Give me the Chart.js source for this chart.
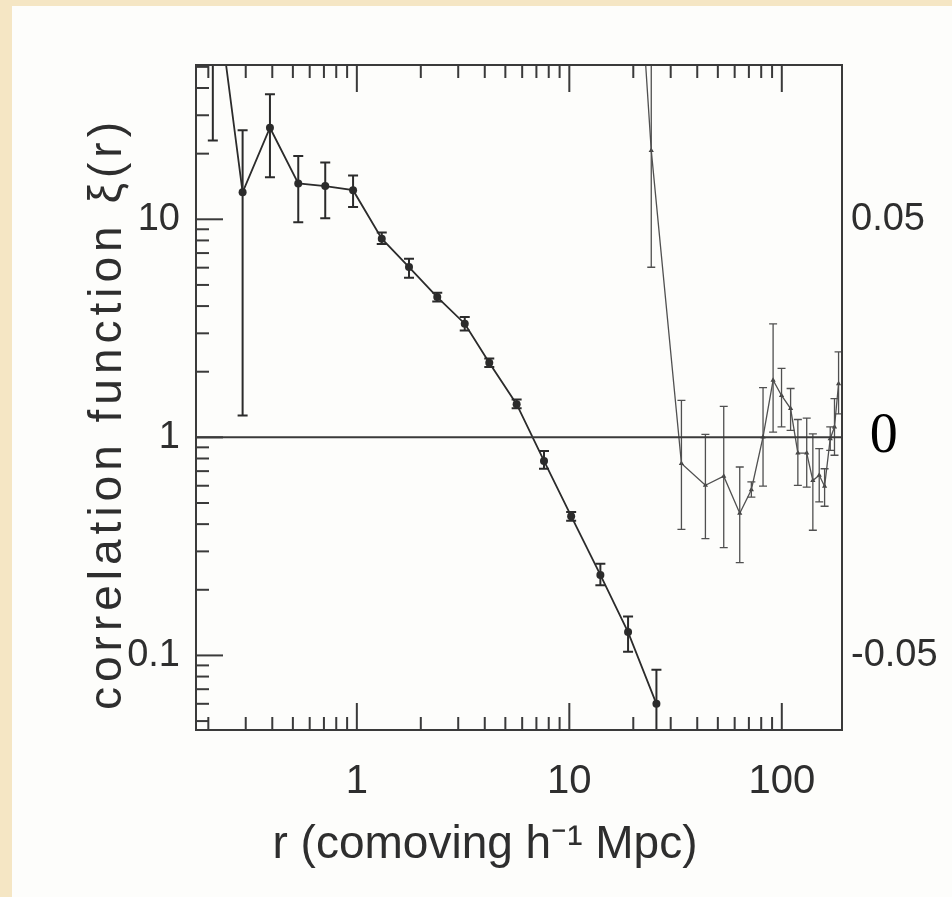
<!DOCTYPE html>
<html>
<head>
<meta charset="utf-8">
<script src="https://cdn.jsdelivr.net/npm/chart.js@4.4.1/dist/chart.umd.min.js"></script>
<style>
  html, body { margin: 0; padding: 0; }
  body { width: 952px; height: 897px; background: #f5e6c4; position: relative; overflow: hidden; }
  #paper { position: absolute; left: 12px; top: 6px; right: 0; bottom: 0; background: #fdfdfb; }
  #chart { position: absolute; left: 0; top: 0; }
</style>
</head>
<body>
<div id="paper"></div>
<canvas id="chart" width="952" height="897"></canvas>
<script>
// small-scale xi(r), log axis (left)
const rSmall = [0.21, 0.29, 0.39, 0.53, 0.71, 0.96, 1.31, 1.76, 2.39, 3.22, 4.2, 5.65, 7.6, 10.2, 14.0, 18.9, 25.7];
const xiSmall = [150, 13.3, 26.3, 14.6, 14.2, 13.6, 8.15, 6.04, 4.4, 3.32, 2.2, 1.42, 0.78, 0.435, 0.234, 0.128, 0.060];
const xiSmallLo = [23, 1.26, 15.6, 9.7, 10.1, 11.4, 7.7, 5.4, 4.2, 3.09, 2.1, 1.36, 0.718, 0.415, 0.21, 0.104, 0.03];
const xiSmallHi = [280, 25.6, 37.4, 19.5, 18.2, 15.9, 8.7, 6.6, 4.6, 3.56, 2.3, 1.49, 0.866, 0.455, 0.263, 0.151, 0.086];

// large-scale xi(r), linear axis (right)
const rLarge = [14.2, 24.3, 33.7, 43.7, 53.3, 63.4, 71.9, 81.6, 91, 99.7, 110, 119, 131, 140, 150, 159, 169, 177, 185];
const xiLarge = [0.24, 0.0658, -0.0060, -0.0110, -0.0089, -0.0174, -0.0120, 0.0001, 0.0131, 0.0096, 0.0066, -0.0036, -0.0036, -0.0099, -0.0087, -0.0112, -0.0003, 0.0024, 0.0123];
const xiLargeLo = [0.21, 0.039, -0.0211, -0.0232, -0.0253, -0.0287, -0.0137, -0.0112, 0.0012, 0.0024, 0.0016, -0.0110, -0.0114, -0.0213, -0.0148, -0.0158, -0.0030, -0.0041, 0.0054];
const xiLargeHi = [0.27, 0.093, 0.0085, 0.0007, 0.0071, -0.0068, -0.0102, 0.0114, 0.026, 0.0158, 0.0112, 0.0041, 0.0044, 0.0008, -0.0026, -0.0072, 0.0024, 0.0089, 0.0196];

// axes
const xTicks = [1, 10, 100];
const yTicks = [0.1, 1, 10];
const y2Ticks = [-0.05, 0, 0.05];
const xRange = [0.175, 192];
const yRange = [0.0455, 51];
const xTitle = 'r (comoving h\u207B\u00B9 Mpc)';
const yTitle = 'correlation function \u03BE(r)';

const ink = '#2e2e2e';
const sans = 'Liberation Sans';

// right axis is 0.05 per decade of the left one
const y2Range = yRange.map(v => 0.05 * Math.log10(v));

function decadeTicks(min, max) {
  let out = [];
  for (let d = Math.pow(10, Math.floor(Math.log10(min))); d <= max; d *= 10) {
    for (let m = 1; m <= 9; m++) {
      let v = m * d;
      if (v > min && v < max) out.push({ v: v, major: m === 1 });
    }
  }
  return out;
}

const errorBars = {
  id: 'errorBars',
  afterDatasetsDraw(chart) {
    const { ctx, chartArea: a } = chart;
    ctx.save();
    ctx.beginPath();
    ctx.rect(a.left, a.top, a.right - a.left, a.bottom - a.top);
    ctx.clip();
    chart.data.datasets.forEach(ds => {
      if (!ds.errLo) return;
      const xs = chart.scales.x, ys = chart.scales[ds.yAxisID];
      ctx.strokeStyle = ds.borderColor;
      ctx.lineWidth = ds.errWidth;
      ds.data.forEach((p, i) => {
        const px = xs.getPixelForValue(p.x);
        const lo = ys.getPixelForValue(ds.errLo[i]);
        const hi = ys.getPixelForValue(ds.errHi[i]);
        const w = ds.capHalf;
        ctx.beginPath();
        ctx.moveTo(px, lo); ctx.lineTo(px, hi);
        ctx.moveTo(px - w, lo); ctx.lineTo(px + w, lo);
        ctx.moveTo(px - w, hi); ctx.lineTo(px + w, hi);
        ctx.stroke();
      });
    });
    ctx.restore();
  }
};

const frame = {
  id: 'frame',
  afterDatasetsDraw(chart) {
    const { ctx, chartArea: a, scales } = chart;
    ctx.save();
    ctx.strokeStyle = '#3a3a3a';
    ctx.lineWidth = 2;
    // zero line of the linear (right) axis
    const z = scales.y2.getPixelForValue(0);
    ctx.beginPath();
    ctx.moveTo(a.left, z); ctx.lineTo(a.right, z);
    ctx.stroke();
    ctx.strokeRect(a.left, a.top, a.right - a.left, a.bottom - a.top);
    // inward ticks: top and bottom for r, left for xi
    decadeTicks(xRange[0], xRange[1]).forEach(t => {
      const px = scales.x.getPixelForValue(t.v);
      const len = t.major ? 27 : 13;
      ctx.beginPath();
      ctx.moveTo(px, a.bottom); ctx.lineTo(px, a.bottom - len);
      ctx.moveTo(px, a.top); ctx.lineTo(px, a.top + len);
      ctx.stroke();
    });
    decadeTicks(yRange[0], yRange[1]).forEach(t => {
      const py = scales.y.getPixelForValue(t.v);
      const len = t.major ? 27 : 13;
      ctx.beginPath();
      ctx.moveTo(a.left, py); ctx.lineTo(a.left + len, py);
      ctx.stroke();
    });
    ctx.restore();
  }
};

// axis titles, spaced out like the old plot lettering
const axisTitles = {
  id: 'axisTitles',
  afterDraw(chart) {
    const { ctx, chartArea: a } = chart;
    ctx.save();
    ctx.fillStyle = ink;
    ctx.font = '46px "Liberation Sans"';
    ctx.textAlign = 'center';
    ctx.textBaseline = 'middle';
    ctx.fillText(xTitle, (a.left + a.right) / 2 - 34, a.bottom + 115);
    ctx.translate(108, (a.top + a.bottom) / 2 + 16);
    ctx.rotate(-Math.PI / 2);
    ctx.letterSpacing = '5px';
    ctx.fillText(yTitle, 0, 0);
    ctx.restore();
  }
};

new Chart(document.getElementById('chart'), {
  type: 'scatter',
  data: {
    datasets: [
      {
        data: rSmall.map((r, i) => ({ x: r, y: xiSmall[i] })),
        errLo: xiSmallLo, errHi: xiSmallHi, errWidth: 2, capHalf: 5,
        yAxisID: 'y',
        showLine: true,
        borderColor: '#2b2b2b', borderWidth: 1.8,
        pointRadius: 4, pointBackgroundColor: '#2b2b2b', pointBorderWidth: 0
      },
      {
        data: rLarge.map((r, i) => ({ x: r, y: xiLarge[i] })),
        errLo: xiLargeLo, errHi: xiLargeHi, errWidth: 1.3, capHalf: 4,
        yAxisID: 'y2',
        showLine: true,
        borderColor: '#505050', borderWidth: 1.3,
        pointStyle: 'triangle', pointRadius: 3,
        pointBackgroundColor: '#404040', pointBorderWidth: 0
      }
    ]
  },
  options: {
    responsive: false,
    animation: false,
    layout: { padding: { left: 0, top: 65, right: 0, bottom: 0 } },
    plugins: { legend: { display: false }, tooltip: { enabled: false } },
    scales: {
      x: {
        type: 'logarithmic',
        min: xRange[0], max: xRange[1],
        grid: { display: false, drawTicks: false },
        border: { display: false },
        afterBuildTicks: s => { s.ticks = xTicks.map(v => ({ value: v })); },
        afterFit: s => { s.height = 167; },
        ticks: {
          autoSkip: false, maxRotation: 0, padding: 28,
          color: ink, font: { family: sans, size: 40 },
          callback: v => String(v)
        }
      },
      y: {
        type: 'logarithmic', position: 'left',
        min: yRange[0], max: yRange[1],
        grid: { display: false, drawTicks: false },
        border: { display: false },
        afterBuildTicks: s => { s.ticks = yTicks.map(v => ({ value: v })); },
        afterFit: s => { s.width = 196; },
        ticks: {
          autoSkip: false, padding: 16,
          color: ink, font: { family: sans, size: 38 },
          callback: v => String(v)
        }
      },
      y2: {
        type: 'linear', position: 'right',
        min: y2Range[0], max: y2Range[1],
        grid: { display: false, drawTicks: false },
        border: { display: false },
        afterBuildTicks: s => { s.ticks = y2Ticks.map(v => ({ value: v })); },
        afterFit: s => { s.width = 110; },
        ticks: {
          autoSkip: false, padding: 9,
          color: ctx => ctx.tick && ctx.tick.value === 0 ? '#000' : ink,
          font: ctx => ctx.tick && ctx.tick.value === 0
            ? { family: 'Liberation Serif', size: 56 }
            : { family: sans, size: 38 },
          callback: v => v === 0 ? ' \u200A0' : String(v)
        }
      }
    }
  },
  plugins: [errorBars, frame, axisTitles]
});
</script>
</body>
</html>
